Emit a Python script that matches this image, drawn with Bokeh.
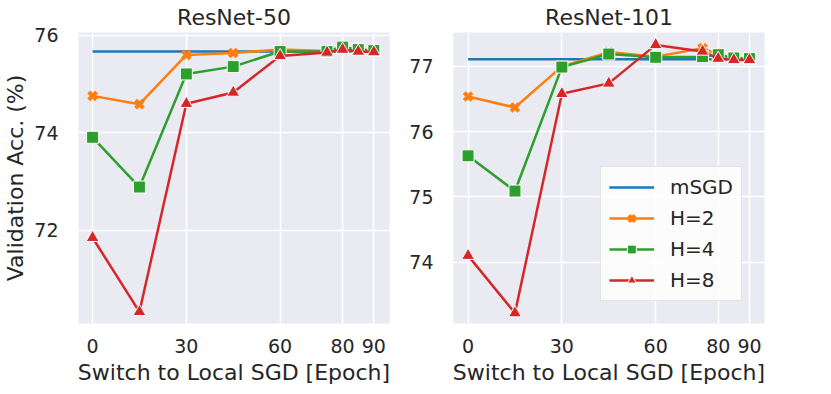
from bokeh.plotting import figure
from bokeh.layouts import row
from bokeh.models import FixedTicker, Legend, LegendItem, Range1d
from bokeh.embed import file_html
from bokeh.resources import INLINE

# ---- data ----
epochs = [0, 15, 30, 45, 60, 75, 80, 85, 90]
x_ticks = [0, 30, 60, 80, 90]

r50_msgd = [75.67, 75.67, 75.67, 75.67, 75.67, 75.67, 75.67, 75.67, 75.67]
r50_h2 = [74.76, 74.59, 75.60, 75.64, 75.71, 75.68, 75.77, 75.70, 75.68]
r50_h4 = [73.91, 72.89, 75.21, 75.36, 75.67, 75.67, 75.76, 75.71, 75.69]
r50_h8 = [71.85, 70.33, 74.60, 74.83, 75.58, 75.65, 75.71, 75.67, 75.66]
r50_yticks = [72, 74, 76]

r101_msgd = [77.11, 77.11, 77.11, 77.11, 77.11, 77.11, 77.11, 77.11, 77.11]
r101_h2 = [76.54, 76.37, 77.00, 77.22, 77.15, 77.28, 77.18, 77.12, 77.11]
r101_h4 = [75.63, 75.09, 76.99, 77.19, 77.14, 77.15, 77.18, 77.13, 77.12]
r101_h8 = [74.10, 73.22, 76.58, 76.74, 77.33, 77.23, 77.12, 77.10, 77.10]
r101_yticks = [74, 75, 76, 77]

labels = ["mSGD", "H=2", "H=4", "H=8"]
colors = ["#1f77b4", "#ff7f0e", "#2ca02c", "#d62728"]

FONT = "DejaVu Sans"
TXT = "#262626"


def make_panel(title, series, yticks, yrange, xrange, ylabel, ml, mr, legend):
    p = figure(frame_width=311, frame_height=291, output_backend="svg",
               toolbar_location=None, x_range=Range1d(*xrange),
               y_range=Range1d(*yrange), min_border_left=ml,
               min_border_right=mr, min_border_top=0, min_border_bottom=60)
    p.title.text = title
    p.title.align = "center"
    p.title.text_font = FONT
    p.title.text_font_size = "22px"
    p.title.text_font_style = "normal"
    p.title.text_color = TXT
    p.title.standoff = 5
    p.background_fill_color = "#EAEAF2"
    p.border_fill_color = "white"
    p.outline_line_color = None
    for ax in (p.xaxis[0], p.yaxis[0]):
        ax.axis_line_color = None
        ax.major_tick_line_color = None
        ax.minor_tick_line_color = None
        ax.major_label_text_font = FONT
        ax.major_label_text_font_size = "19px"
        ax.major_label_text_color = TXT
        ax.axis_label_text_font = FONT
        ax.axis_label_text_font_size = "22px"
        ax.axis_label_text_font_style = "normal"
        ax.axis_label_text_color = TXT
    p.yaxis.major_label_standoff = 14
    p.xaxis.major_label_standoff = 9
    p.xaxis.ticker = FixedTicker(ticks=x_ticks)
    p.yaxis.ticker = FixedTicker(ticks=yticks)
    p.xaxis.axis_label = "Switch to Local SGD [Epoch]"
    p.xaxis.axis_label_standoff = 4
    if ylabel:
        p.yaxis.axis_label = ylabel
        p.yaxis.axis_label_standoff = 3
    p.grid.grid_line_color = "white"
    p.grid.grid_line_width = 1.5
    p.xgrid.ticker = FixedTicker(ticks=x_ticks)
    p.ygrid.ticker = FixedTicker(ticks=yticks)

    items = []
    msgd, h2, h4, h8 = series
    l0 = p.line(epochs, msgd, line_color=colors[0], line_width=2.5)
    items.append(LegendItem(label=labels[0], renderers=[l0]))

    l1 = p.line(epochs, h2, line_color=colors[1], line_width=2.5)
    s1 = p.scatter(epochs, h2, marker="x", size=11, line_color=colors[1],
                   line_width=4)
    items.append(LegendItem(label=labels[1], renderers=[l1, s1]))

    l2 = p.line(epochs, h4, line_color=colors[2], line_width=2.5)
    s2 = p.scatter(epochs, h4, marker="square", size=12, fill_color=colors[2],
                   line_color="white", line_width=1)
    items.append(LegendItem(label=labels[2], renderers=[l2, s2]))

    l3 = p.line(epochs, h8, line_color=colors[3], line_width=2.5)
    s3 = p.scatter(epochs, h8, marker="triangle", size=13, fill_color=colors[3],
                   line_color="white", line_width=1)
    items.append(LegendItem(label=labels[3], renderers=[l3, s3]))

    if legend:
        lg = Legend(items=items, location="bottom_right")
        lg.margin = 22
        lg.label_text_font = FONT
        lg.label_text_font_size = "20px"
        lg.label_text_color = TXT
        lg.glyph_width = 45
        lg.glyph_height = 22
        lg.spacing = 7
        lg.padding = 8
        lg.label_standoff = 16
        lg.background_fill_color = "white"
        lg.background_fill_alpha = 0.85
        lg.border_line_color = "#cccccc"
        lg.border_line_width = 1
        p.add_layout(lg, "center")
    return p


p1 = make_panel("ResNet-50", (r50_msgd, r50_h2, r50_h4, r50_h8), r50_yticks,
                (70.09, 76.06), (-4.5, 95.0), "Validation Acc. (%)", 0, 17, False)
p2 = make_panel("ResNet-101", (r101_msgd, r101_h2, r101_h4, r101_h8), r101_yticks,
                (73.06, 77.52), (-4.66, 94.8), None, 0, 30, True)

layout = row(p1, p2)
open("out.html", "w").write(file_html(layout, INLINE))
